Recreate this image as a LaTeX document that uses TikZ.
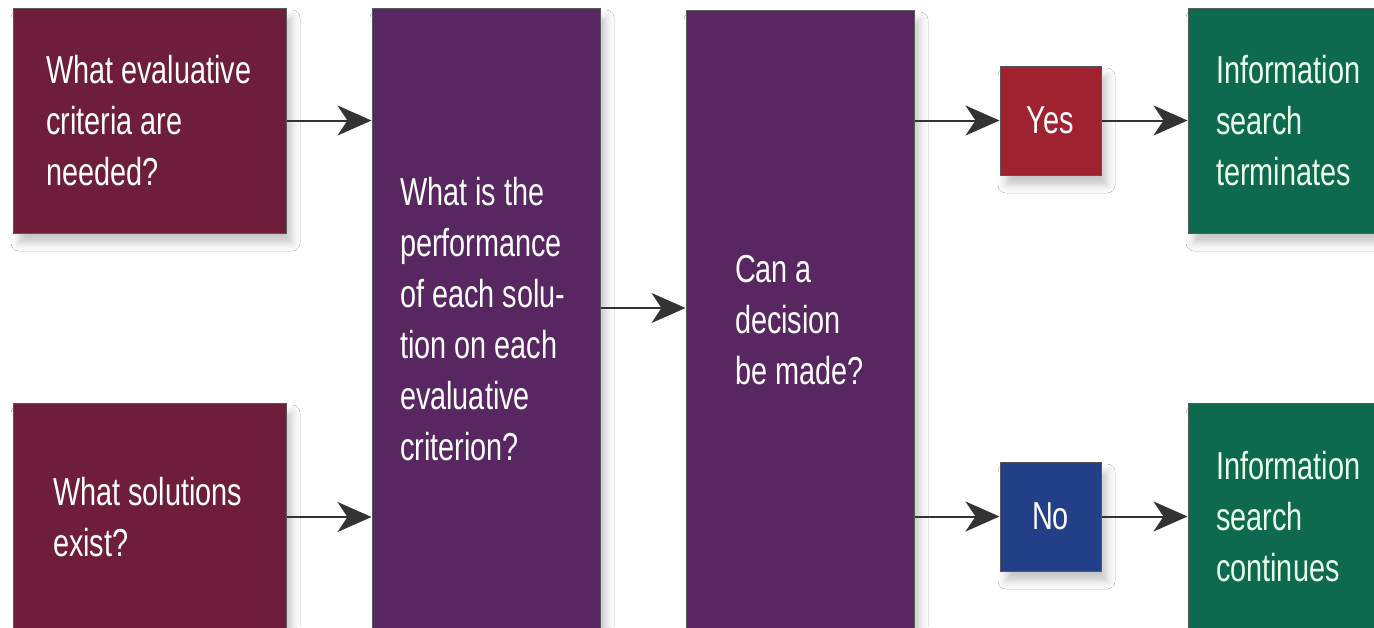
\documentclass[tikz,border=0pt]{standalone}
\usepackage{fontspec}
\setmainfont{Liberation Sans}[FakeStretch=0.74]
\usetikzlibrary{arrows.meta,shadows.blur}
\definecolor{qmaroon}{HTML}{6E1E3A}
\definecolor{qpurple}{HTML}{582660}
\definecolor{yesred}{HTML}{A02230}
\definecolor{noblue}{HTML}{233F87}
\definecolor{endgreen}{HTML}{0E6A4E}
\definecolor{arrowgray}{HTML}{333333}
\begin{document}
\begin{tikzpicture}[x=1pt, y=-1pt, font=\fontsize{39}{51}\selectfont]
	\clip (0,0) rectangle (1374,627);
	\fill[white] (0,0) rectangle (1374,627);
	\tikzset{
		box/.style={draw=black!65, line width=1pt, text=white, align=left, inner ysep=0pt,
			execute at begin node={\hyphenpenalty=10000\exhyphenpenalty=10000\spaceskip=8pt},
			blur shadow={shadow xshift=6pt, shadow yshift=-10pt, shadow blur radius=8pt, shadow opacity=22}},
		answer/.style={box, align=center, inner sep=0pt, minimum width=101pt, minimum height=109pt},
		flow/.style={draw=arrowgray, line width=2pt, -{Stealth[length=34pt, width=30pt, inset=10pt]}}
	}
	\node[box, fill=qmaroon, minimum height=225pt, text width=207pt, inner xsep=33pt] (criteria) at (149.5,120.5) {What~evaluative\\criteria~are\\needed?};
	\node[box, fill=qmaroon, minimum height=228pt, text width=193pt, inner xsep=40pt] (solutions) at (149.5,517) {What~solutions\\exist?};
	\node[box, fill=qpurple, minimum height=623pt, text width=172pt, inner xsep=28pt] (performance) at (486,319.5) {What~is~the\\performance\\of~each~solu-\\tion~on~each\\evaluative\\criterion?};
	\node[box, fill=qpurple, minimum height=621pt, text width=130pt, inner xsep=49pt] (decision) at (800,320.5) {Can~a\\decision\\be~made?};
	\node[answer, fill=yesred] (yes) at (1050.5,120.5) {Yes};
	\node[answer, fill=noblue] (no) at (1050.5,516.5) {No};
	\node[box, fill=endgreen, text=green!8, minimum height=225pt, text width=164pt, inner xsep=28pt] (terminates) at (1298,120.5) {Information\\search\\terminates};
	\node[box, fill=endgreen, text=green!8, minimum height=226pt, text width=164pt, inner xsep=28pt] (continues) at (1298,516.5) {Information\\search\\continues};
	\coordinate (mid) at (643,308);
	\draw[flow] (criteria) -- (criteria -| performance.west);
	\draw[flow] (solutions) -- (solutions -| performance.west);
	\draw[flow] (mid -| performance.east) -- (mid -| decision.west);
	\draw[flow] (yes -| decision.east) -- (yes);
	\draw[flow] (no -| decision.east) -- (no);
	\draw[flow] (yes) -- (terminates);
	\draw[flow] (no) -- (continues);
\end{tikzpicture}
\end{document}
